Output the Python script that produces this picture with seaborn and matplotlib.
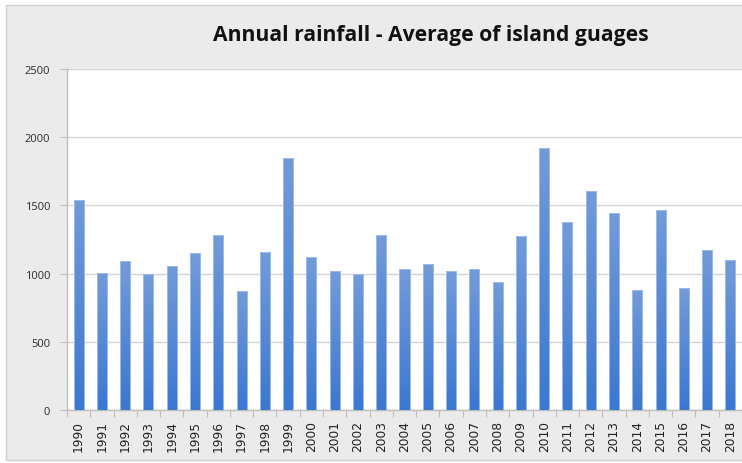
import numpy as np
import pandas as pd
import matplotlib
matplotlib.use("Agg")
import matplotlib.pyplot as plt
import seaborn as sns
from matplotlib.patches import Rectangle
from matplotlib.colors import LinearSegmentedColormap
from matplotlib.ticker import FixedLocator

# ---- data ----
years = [str(y) for y in range(1990, 2019)]
rainfall = [1542, 1005, 1095, 1000, 1053, 1153, 1282, 874, 1155, 1845,
            1124, 1017, 995, 1284, 1032, 1070, 1019, 1032, 937, 1272,
            1923, 1379, 1604, 1444, 881, 1464, 898, 1172, 1097]
yticks = [0, 500, 1000, 1500, 2000, 2500]
title = "Annual rainfall - Average of island guages"

sns.set_theme(style="white")
plt.rcParams['font.family'] = ['DejaVu Sans']

W, H = 742, 464
fig = plt.figure(figsize=(W / 100, H / 100), dpi=100)
fig.patch.set_facecolor("white")

# grey chart-area background (runs off the right edge, as in the cropped original)
bg = Rectangle((6 / W, (H - 461) / H), 1.05 - 6 / W, (461 - 5.5) / H,
               transform=fig.transFigure, facecolor="#ebebeb",
               edgecolor="#d0d0d0", lw=1.0, zorder=-10)
fig.add_artist(bg)

L, R, T, B = 67, 742, 70, 411
ax = fig.add_axes([L / W, (H - B) / H, (R - L) / W, (B - T) / H])
ax.set_zorder(1)
ax.set_facecolor("white")

df = pd.DataFrame({"year": years, "rain": rainfall})
sns.barplot(data=df, x="year", y="rain", color="#4f86d6", saturation=1,
            width=0.43, ax=ax, zorder=3)

ax.set_xlim(-0.5, len(years) - 0.5)
ax.set_ylim(0, 2500)
ax.set_yticks(yticks)
ax.set_yticklabels([str(v) for v in yticks], fontsize=8, color="#2b2b2b",
                   family="Open Sans")
ax.grid(axis="y", color="#d3d3d3", lw=1.0, zorder=0)
ax.set_axisbelow(True)

ax.set_xlabel("")
ax.set_ylabel("")
ax.tick_params(axis="x", which="major", length=0, pad=7, labelsize=8.8,
               labelcolor="#222222", rotation=90)
ax.xaxis.set_minor_locator(FixedLocator(np.arange(-0.5, len(years), 1.0)))
ax.tick_params(axis="x", which="minor", length=5, width=0.8, color="#bdbdbd",
               direction="out", bottom=True)
ax.tick_params(axis="y", which="major", length=5, width=0.8, color="#bdbdbd",
               direction="out", left=True, pad=7)

for s in ["top", "right"]:
    ax.spines[s].set_visible(False)
for s in ["left", "bottom"]:
    ax.spines[s].set_color("#bdbdbd")
    ax.spines[s].set_linewidth(1.0)

# vertical gradient on bars (lighter at top, darker at bottom)
cmap = LinearSegmentedColormap.from_list("g", ["#3b78d1", "#739bd9"])
grad = np.linspace(0, 1, 256).reshape(-1, 1)
for p in list(ax.patches):
    x0, y0 = p.get_x(), p.get_y()
    w, h = p.get_width(), p.get_height()
    if h <= 0:
        continue
    im = ax.imshow(grad, cmap=cmap, aspect="auto", origin="lower",
                   extent=[x0, x0 + w, y0, y0 + h], zorder=4,
                   interpolation="bilinear")
    im.set_clip_path(p)
    ax.add_patch(Rectangle((x0, y0), w, h, fill=False, edgecolor="#9dbbe8",
                           lw=0.7, zorder=5))
ax.set_xlim(-0.5, len(years) - 0.5)
ax.set_ylim(0, 2500)

fig.text(431 / W, 1 - 36 / H, title, ha="center", va="center",
         fontsize=15.2, fontweight="bold", family=["Open Sans", "DejaVu Sans"],
         color="#111111")

fig.savefig("out.png", dpi=100, facecolor="white")
